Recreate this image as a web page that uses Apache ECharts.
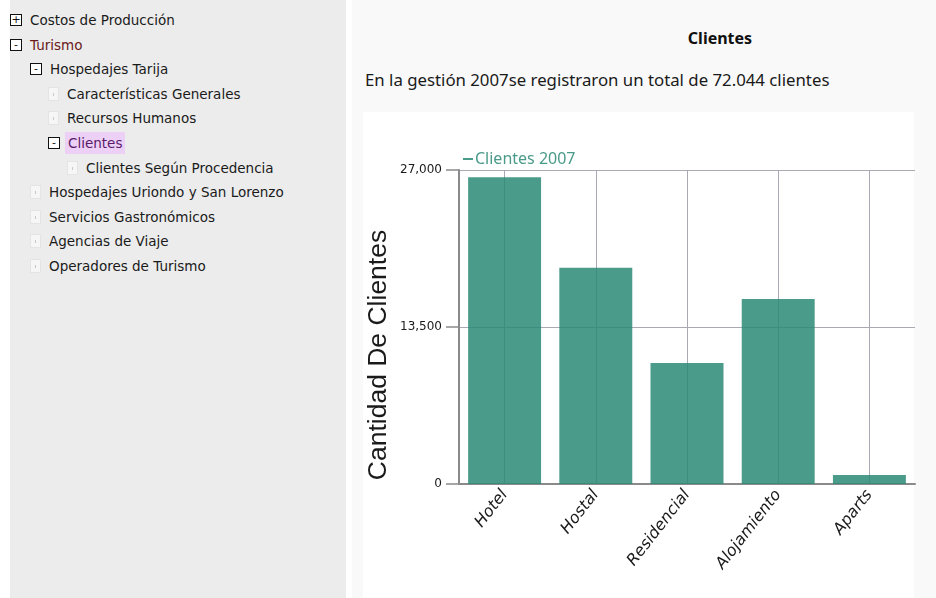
<!DOCTYPE html>
<html>
<head>
<meta charset="utf-8">
<script src="https://cdn.jsdelivr.net/npm/echarts@6/dist/echarts.min.js"></script>
<style>
  html, body { margin:0; padding:0; width:936px; height:598px; overflow:hidden; background:#ffffff; }
  #side { position:absolute; left:10px; top:0; width:336px; height:598px; background:#ececec; }
  #main { position:absolute; left:352px; top:0; width:584px; height:598px; background:#f9f9f9; }
  #box { position:absolute; left:363px; top:112px; width:551px; height:486px; background:#ffffff; }
  #chart { position:absolute; left:352px; top:100px; width:584px; height:498px; }
  #title { position:absolute; left:352px; top:27px; width:736px; text-align:center; font-family:"Noto Sans"; font-weight:bold; font-size:16px; color:#111; }
  #sub { position:absolute; left:365px; top:68px; font-family:"Noto Sans"; font-size:16.8px; color:#1a1a1a; white-space:nowrap; }
  .row { position:absolute; height:20px; font-family:"DejaVu Sans"; font-size:13.5px; color:#1a1a1a; white-space:nowrap; line-height:20px; }
  .tog { position:absolute; width:10px; height:10px; border:1px solid #111; background:#fff; font-size:11px; line-height:9px; text-align:center; font-family:"DejaVu Sans"; color:#111; }
  .leaf { position:absolute; width:11px; height:14px; background:#f6f6f6; border:1px solid #e4e4e4; box-sizing:border-box; }
  .leaf::after { content:""; position:absolute; left:4px; top:5px; width:1px; height:3px; background:#c8c8c8; }
  .txt { position:absolute; top:0; }
</style>
</head>
<body>
<div id="side"></div>
<div id="main"></div>
<div id="box"></div>
<div id="title">Clientes</div>
<div id="sub">En la gestión 2007se registraron un total de 72.044 clientes</div>
<div id="tree"></div>
<div id="chart"></div>
<script>
// ---- data ----
var treeItems = [
  ["Costos de Producción", 0, "plus"],
  ["Turismo", 0, "minus"],
  ["Hospedajes Tarija", 1, "minus"],
  ["Características Generales", 2, "leaf"],
  ["Recursos Humanos", 2, "leaf"],
  ["Clientes", 2, "minus"],
  ["Clientes Según Procedencia", 3, "leaf"],
  ["Hospedajes Uriondo y San Lorenzo", 1, "leaf"],
  ["Servicios Gastronómicos", 1, "leaf"],
  ["Agencias de Viaje", 1, "leaf"],
  ["Operadores de Turismo", 1, "leaf"]
];
var categories = ["Hotel", "Hostal", "Residencial", "Alojamiento", "Aparts"];
var clientes2007 = [26380, 18600, 10400, 15900, 764];
var yTicks = [0, 13500, 27000];
var seriesName = "Clientes 2007";
var yAxisTitle = "Cantidad De Clientes";

// ---- tree ----
var tree = document.getElementById('tree');
treeItems.forEach(function (it, i) {
  var y = 10 + i * 24.6;
  var indent = [10, 30, 48, 67][it[1]];
  var row = document.createElement('div');
  row.className = 'row';
  row.style.left = indent + 'px';
  row.style.top = y + 'px';
  var ic = document.createElement('div');
  if (it[2] === 'leaf') {
    ic.className = 'leaf';
    ic.style.left = '0px'; ic.style.top = '3px';
  } else {
    ic.className = 'tog';
    ic.style.left = '0px'; ic.style.top = '4px';
    ic.textContent = it[2] === 'plus' ? '+' : '-';
  }
  row.appendChild(ic);
  var t = document.createElement('span');
  t.className = 'txt';
  t.textContent = it[0];
  t.style.left = (it[2] === 'leaf' ? 19 : 20) + 'px';
  if (it[0] === 'Turismo') t.style.color = '#6a1a1a';
  if (it[0] === 'Clientes') {
    t.style.background = '#ecd0f6';
    t.style.color = '#5a1a6a';
    t.style.padding = '1px 3px';
    t.style.left = '17px';
    t.style.top = '-1px';
  }
  row.appendChild(t);
  tree.appendChild(row);
});

// ---- chart ----
var chart = echarts.init(document.getElementById('chart'), null, { renderer: 'canvas' });
function fmt(v) { return String(v).replace(/\B(?=(\d{3})+(?!\d))/g, ','); }
chart.setOption({
  animation: false,
  backgroundColor: 'transparent',
  grid: { left: 107, right: 21, top: 70, bottom: 114 },
  legend: {
    left: 106, top: 46, icon: 'rect', itemWidth: 10, itemHeight: 2,
    data: [seriesName],
    textStyle: { color: '#4a9a8a', fontSize: 16, fontFamily: 'Noto Sans', padding: [0, 0, 0, -3] }
  },
  graphic: [{
    type: 'text', x: 27, y: 255, rotation: Math.PI / 2,
    style: { text: yAxisTitle, fontSize: 26.5, fontFamily: 'Liberation Sans', fill: '#1a1a1a', align: 'center', verticalAlign: 'middle' }
  }],
  xAxis: {
    type: 'category', data: categories, boundaryGap: true,
    axisLine: { lineStyle: { color: '#8a8a8a', width: 2 } },
    axisTick: { alignWithLabel: true, length: 7, lineStyle: { color: '#8a8a8a', width: 1.5 } },
    axisLabel: { rotate: 52, margin: 8, fontSize: 16, fontStyle: 'italic', fontFamily: 'DejaVu Sans', color: '#1a1a1a' },
    splitLine: { show: true, alignWithLabel: true, lineStyle: { color: '#a9a9b3', width: 1 } }
  },
  yAxis: {
    type: 'value', min: yTicks[0], max: yTicks[yTicks.length - 1], interval: yTicks[1] - yTicks[0],
    axisLine: { show: true, lineStyle: { color: '#8a8a8a', width: 2 } },
    axisTick: { show: true, length: 13, lineStyle: { color: '#8a8a8a', width: 1.5 } },
    axisLabel: { margin: 17, fontSize: 12, fontFamily: 'DejaVu Sans', color: '#1a1a1a', formatter: fmt },
    splitLine: { show: true, lineStyle: { color: '#a9a9b3', width: 1 } }
  },
  series: [{
    type: 'bar', name: seriesName, data: clientes2007, barCategoryGap: '20%',
    itemStyle: { color: '#2a8a76', opacity: 0.85 }
  }]
});
</script>
</body>
</html>
